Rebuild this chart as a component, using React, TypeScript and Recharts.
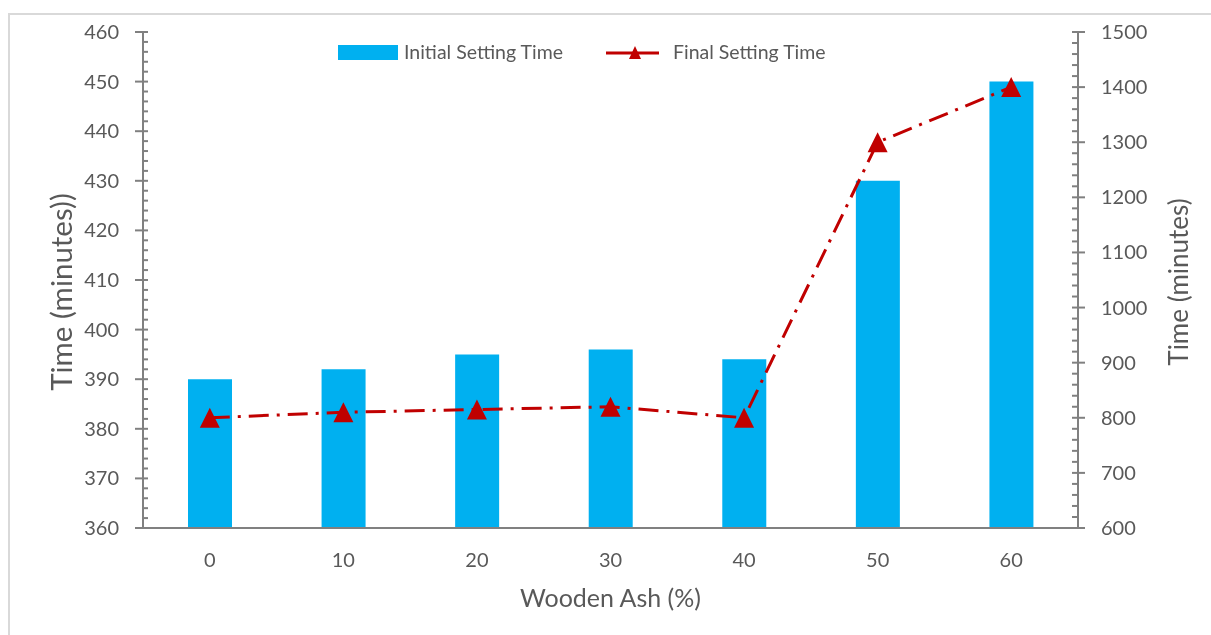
import { ComposedChart, Bar, Line, XAxis, YAxis, Legend } from "recharts";

// wooden ash replacement levels (%)
const ashLevels = ["0", "10", "20", "30", "40", "50", "60"];
// setting times in minutes
const initialSetting = [390, 392, 395, 396, 394, 430, 450];
const finalSetting = [800, 810, 815, 820, 800, 1300, 1400];

const leftTicks = [360, 370, 380, 390, 400, 410, 420, 430, 440, 450, 460];
const rightTicks = [600, 700, 800, 900, 1000, 1100, 1200, 1300, 1400, 1500];
const leftMinorStep = 2;
const rightMinorStep = 20;

const ink = "#595959";
const axisGray = "#808080";
const blue = "#00B0F0";
const red = "#C00000";
const font = "Lato, 'Open Sans', sans-serif";

const data = ashLevels.map((ash, i) => ({
  ash,
  initial: initialSetting[i],
  final: finalSetting[i],
}));

// major ticks plus the minor ones between them
function withMinor(major: number[], step: number) {
  const out: number[] = [];
  for (let i = 0; i < major.length - 1; i++) {
    for (let v = major[i]; v < major[i + 1]; v += step) out.push(v);
  }
  out.push(major[major.length - 1]);
  return out;
}

function AxisTick(props: any) {
  const { x, y, payload, side, majors } = props;
  const isMajor = majors.includes(payload.value);
  if (side === "left") {
    return (
      <g>
        <line
          x1={isMajor ? x - 8 : x}
          x2={x + 5}
          y1={y}
          y2={y}
          stroke={axisGray}
          strokeWidth={2}
        />
        {isMajor && (
          <text x={x - 24} y={y} dy={7} textAnchor="end" fill={ink} fontSize={20}>
            {payload.value}
          </text>
        )}
      </g>
    );
  }
  return (
    <g>
      <line
        x1={x - 6}
        x2={isMajor ? x + 7 : x}
        y1={y}
        y2={y}
        stroke={axisGray}
        strokeWidth={2}
      />
      {isMajor && (
        <text x={x + 23} y={y} dy={7} textAnchor="start" fill={ink} fontSize={20}>
          {payload.value}
        </text>
      )}
    </g>
  );
}

function Triangle(props: any) {
  const { cx, cy } = props;
  if (cx == null || cy == null) return null;
  return (
    <polygon
      points={`${cx},${cy - 10} ${cx - 10},${cy + 10} ${cx + 10},${cy + 10}`}
      fill={red}
    />
  );
}

function SettingLegend() {
  return (
    <svg width={520} height={34} style={{ display: "block" }}>
      <rect x={18} y={15} width={60} height={15} fill={blue} />
      <text x={84} y={29} fill={ink} fontSize={19.5} fontFamily={font}>
        Initial Setting Time
      </text>
      <line x1={286} x2={339} y1={23} y2={23} stroke={red} strokeWidth={3} />
      <polygon points="315,16 309,29 321,29" fill={red} />
      <text x={353} y={29} fill={ink} fontSize={19.5} fontFamily={font}>
        Final Setting Time
      </text>
    </svg>
  );
}

export default function App() {
  return (
    <div style={{ position: "relative", width: 1195, height: 619, fontFamily: font }}>
      <div
        style={{
          position: "fixed",
          left: 8,
          top: 13,
          right: 0,
          bottom: 0,
          borderLeft: "2px solid #D9D9D9",
          borderTop: "2px solid #D9D9D9",
        }}
      />
      <ComposedChart
        width={1195}
        height={619}
        data={data}
        margin={{ top: 24, right: 15, bottom: 19, left: 45 }}
        barCategoryGap="33%"
      >
        <XAxis
          dataKey="ash"
          height={80}
          tickLine={false}
          tickSize={0}
          tickMargin={25}
          axisLine={{ stroke: axisGray, strokeWidth: 2 }}
          tick={{ fill: ink, fontSize: 20 }}
          label={{
            value: "Wooden Ash (%)",
            position: "insideBottom",
            offset: 1,
            fill: ink,
            fontSize: 25,
          }}
        />
        <YAxis
          yAxisId="left"
          width={90}
          domain={[360, 460]}
          ticks={withMinor(leftTicks, leftMinorStep)}
          interval={0}
          tickLine={false}
          tickSize={0}
          tickMargin={0}
          axisLine={{ stroke: axisGray, strokeWidth: 2 }}
          tick={(p: any) => <AxisTick {...p} side="left" majors={leftTicks} />}
          label={{
            value: "Time (minutes))",
            angle: -90,
            position: "insideLeft",
            offset: 9,
            dy: 12,
            fill: ink,
            fontSize: 29.5,
            style: { textAnchor: "middle" },
          }}
        />
        <YAxis
          yAxisId="right"
          orientation="right"
          width={110}
          domain={[600, 1500]}
          ticks={withMinor(rightTicks, rightMinorStep)}
          interval={0}
          tickLine={false}
          tickSize={0}
          tickMargin={0}
          axisLine={{ stroke: axisGray, strokeWidth: 2 }}
          tick={(p: any) => <AxisTick {...p} side="right" majors={rightTicks} />}
          label={{
            value: "Time (minutes)",
            angle: -90,
            position: "insideRight",
            offset: 9,
            dy: 2,
            fill: ink,
            fontSize: 26,
            style: { textAnchor: "middle" },
          }}
        />
        <Legend
          verticalAlign="middle"
          align="center"
          wrapperStyle={{ top: 22, left: 312, width: 520 }}
          content={() => <SettingLegend />}
        />
        <Bar
          yAxisId="left"
          dataKey="initial"
          name="Initial Setting Time"
          fill={blue}
          barSize={44}
          isAnimationActive={false}
        />
        <Line
          yAxisId="right"
          type="linear"
          dataKey="final"
          name="Final Setting Time"
          stroke={red}
          strokeWidth={3}
          strokeDasharray="20 8 3 8"
          dot={<Triangle />}
          activeDot={false}
          isAnimationActive={false}
        />
      </ComposedChart>
    </div>
  );
}
